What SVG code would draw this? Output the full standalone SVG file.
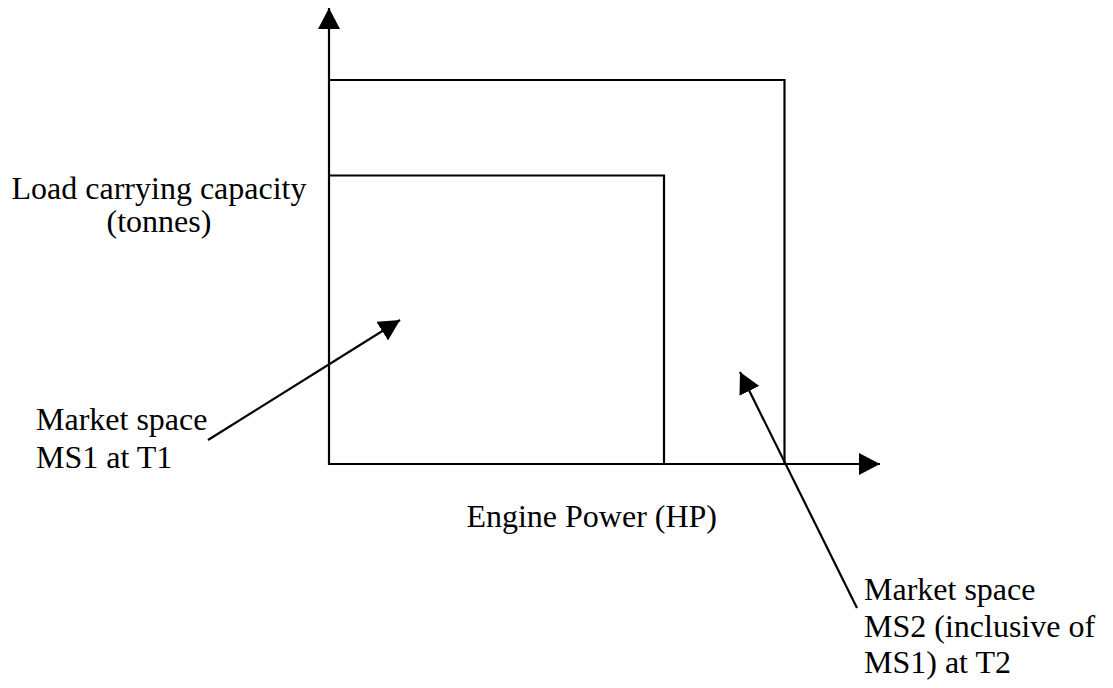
<svg xmlns="http://www.w3.org/2000/svg" width="1113" height="688" viewBox="0 0 1113 688">
<style>
.ln{stroke:#000;stroke-width:2.2;fill:none}
.t{font-family:"Liberation Serif","Times New Roman",serif;font-size:32px;fill:#000}
</style>
<defs>
<marker id="ah" viewBox="0 0 21 22" refX="21" refY="11" markerWidth="21" markerHeight="22" markerUnits="userSpaceOnUse" orient="auto">
<path d="M0,0 L21,11 L0,22 z" fill="#000"/>
</marker>
</defs>
<rect width="1113" height="688" fill="#fff"/>
<g id="outer-region"><path class="ln" d="M329,80 H784.5 V464"/></g>
<g id="inner-region"><path class="ln" d="M329,175.5 H664 V464"/></g>
<g id="connectors">
<line class="ln" x1="329" y1="465" x2="329" y2="8" marker-end="url(#ah)"/>
<line class="ln" x1="328" y1="464" x2="880" y2="464" marker-end="url(#ah)"/>
<line class="ln" x1="208" y1="440" x2="400" y2="320" stroke-width="2" marker-end="url(#ah)"/>
<line class="ln" x1="857" y1="608" x2="740" y2="372" stroke-width="2" marker-end="url(#ah)"/>
</g>
<g id="y-label">
<text class="t" x="159" y="199" text-anchor="middle">Load carrying capacity</text>
<text class="t" x="159" y="232" text-anchor="middle">(tonnes)</text>
</g>
<g id="x-label"><text class="t" x="717" y="527" text-anchor="end">Engine Power (HP)</text></g>
<g id="ms1-label">
<text class="t" x="36" y="430">Market space</text>
<text class="t" x="36" y="468">MS1 at T1</text>
</g>
<g id="ms2-label">
<text class="t" x="864" y="600">Market space</text>
<text class="t" x="864" y="637">MS2 (inclusive of</text>
<text class="t" x="864" y="673">MS1) at T2</text>
</g>
</svg>
